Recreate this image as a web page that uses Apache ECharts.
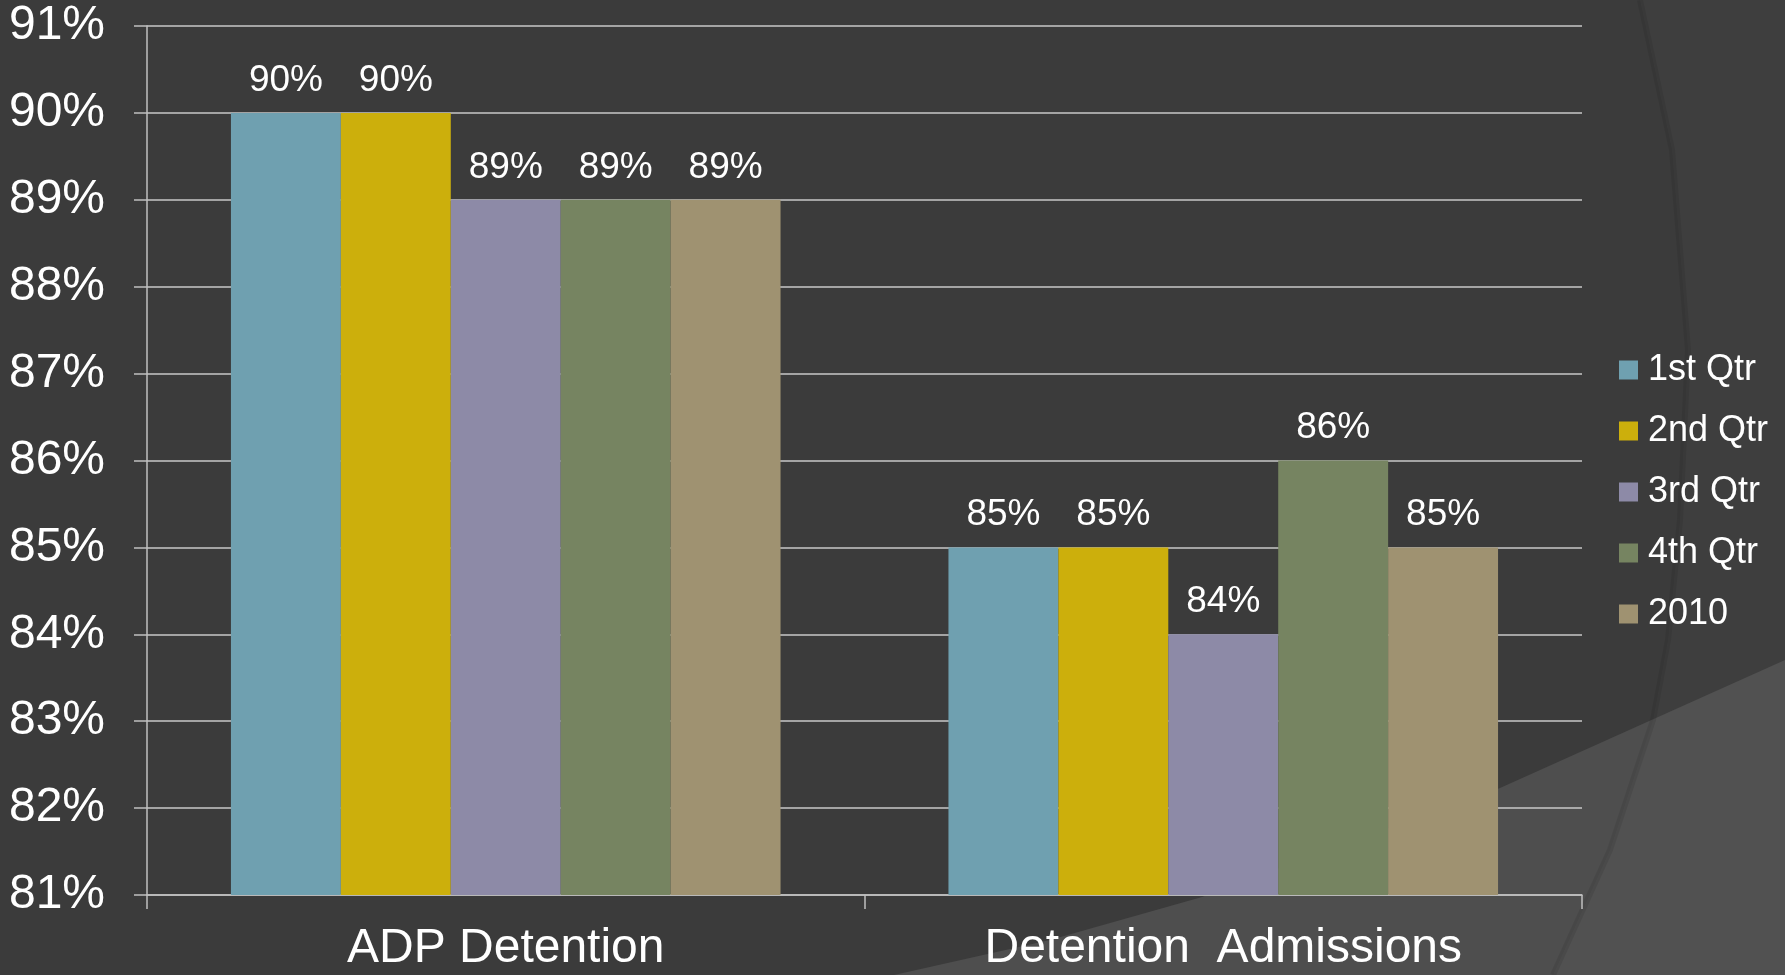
<!DOCTYPE html>
<html>
<head>
<meta charset="utf-8">
<script src="https://cdn.jsdelivr.net/npm/echarts@6/dist/echarts.min.js"></script>
<style>
html,body{margin:0;padding:0;background:#3b3b3b;}
#chart{width:1785px;height:975px;}
</style>
</head>
<body>
<div id="chart"></div>
<script>
var categories = ['ADP Detention', 'Detention  Admissions'];
var seriesNames = ['1st Qtr', '2nd Qtr', '3rd Qtr', '4th Qtr', '2010'];
var q1 = [90, 85];
var q2 = [90, 85];
var q3 = [89, 84];
var q4 = [89, 86];
var y2010 = [89, 85];
var colors = ['#6fa0b0', '#ccaf0c', '#8d8aa7', '#768461', '#9f9271'];

var seriesValues = [q1, q2, q3, q4, y2010];

var chart = echarts.init(document.getElementById('chart'));
var font = 'Liberation Sans, Arial, sans-serif';

var series = seriesNames.map(function (name, i) {
  return {
    name: name,
    type: 'bar',
    data: seriesValues[i],
    barGap: '0%',
    barCategoryGap: '23.4%',
    itemStyle: { color: colors[i] },
    label: {
      show: true,
      position: 'top',
      distance: 14,
      color: '#ffffff',
      fontSize: 37,
      fontFamily: font,
      formatter: '{c}%'
    },
    z: 3
  };
});

chart.setOption({
  backgroundColor: '#3b3b3b',
  animation: false,
  graphic: [
    {
      type: 'polygon',
      z: -10,
      silent: true,
      shape: { points: [[1785, 660], [1500, 788], [1350, 842], [1202, 897], [1050, 940], [894, 975], [1785, 975]] },
      style: { fill: '#4e4e4e' }
    },
    {
      type: 'polygon',
      z: -9,
      silent: true,
      shape: { points: [[1640, 0], [1672, 150], [1688, 350], [1680, 520], [1668, 640], [1653, 720], [1610, 850], [1553, 975], [1785, 975], [1785, 0]] },
      style: { fill: 'rgba(255,255,255,0.02)' }
    },
    {
      type: 'polyline',
      z: -8,
      silent: true,
      shape: { points: [[1640, 0], [1672, 150], [1688, 350], [1680, 520], [1668, 640], [1653, 720], [1610, 850], [1553, 975]] },
      style: { stroke: 'rgba(0,0,0,0.08)', lineWidth: 6, fill: null }
    }
  ],
  grid: { left: 147, right: 203, top: 26, bottom: 80, containLabel: false },
  legend: {
    orient: 'vertical',
    left: 1619,
    top: 352,
    padding: 0,
    itemWidth: 19,
    itemHeight: 19,
    itemGap: 25,
    icon: 'rect',
    textStyle: { color: '#ffffff', fontSize: 36, fontFamily: font, padding: [0, 0, 0, 5] },
    data: seriesNames
  },
  xAxis: {
    type: 'category',
    data: categories,
    axisLine: { show: true, lineStyle: { color: '#c0c0c0', width: 1.5 } },
    axisTick: { show: true, length: 14, alignWithLabel: false, lineStyle: { color: '#c0c0c0', width: 1.5 } },
    axisLabel: { color: '#ffffff', fontSize: 48, fontFamily: font, margin: 30 },
    splitLine: { show: false }
  },
  yAxis: {
    type: 'value',
    min: 81,
    max: 91,
    interval: 1,
    axisLine: { show: true, lineStyle: { color: '#c0c0c0', width: 1.5 } },
    axisTick: { show: true, length: 13, lineStyle: { color: '#c0c0c0', width: 1.5 } },
    axisLabel: { color: '#ffffff', fontSize: 48, fontFamily: font, margin: 42, formatter: '{value}%' },
    splitLine: { show: true, lineStyle: { color: '#c8c8c8', width: 1.5 } }
  },
  series: series
});
</script>
</body>
</html>
